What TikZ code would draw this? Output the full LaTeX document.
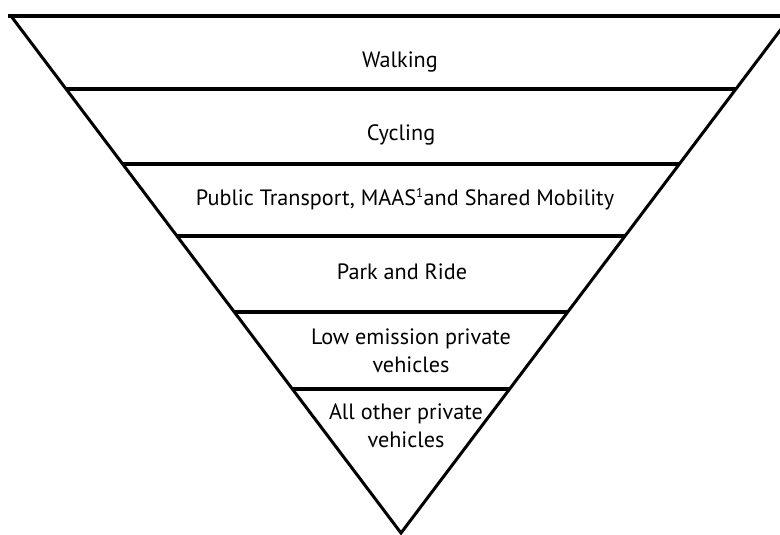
\documentclass[tikz,border=0pt]{standalone}
\usepackage{fontspec}
\setmainfont{PT Sans}
\usetikzlibrary{calc}
\begin{document}
\begin{tikzpicture}[x=1pt,y=-1pt,
  edge/.style={line width=3pt},
  band/.style={line width=4.4pt},
  lbl/.style={font=\fontsize{22.2}{28}\selectfont, align=center, inner sep=0pt}]
\useasboundingbox (0,0) rectangle (780,535);
\clip (0,0) rectangle (780,535);
\coordinate (TL) at (11,16);
\coordinate (TR) at (791,16);
\coordinate (A) at (401,533);
\draw[edge, line join=miter] (TR) -- (TL) -- (A) -- cycle;
\draw[band] (8,16) -- (TR);
\foreach \t/\n in {0.1412/a,0.2863/b,0.4255/c,0.5725/d,0.7215/e}{
  \coordinate (L\n) at ($(TL)!\t!(A)$);
  \coordinate (R\n) at ($(TR)!\t!(A)$);
  \draw[band] (L\n) -- (R\n);
}
\node[lbl] (walk) at (400,62) {Walking};
\node[lbl] (cyc) at (401,135) {Cycling};
\node[lbl] (pt) at (405,199) {Public Transport, MAAS\textsuperscript{\fontsize{13}{13}\selectfont 1}and Shared Mobility};
\node[lbl] (pr) at (402,272) {Park and Ride};
\node[lbl] (low) at (411,351) {Low emission private\\vehicles};
\node[lbl] (oth) at (406,426) {All other private\\vehicles};
\end{tikzpicture}
\end{document}
